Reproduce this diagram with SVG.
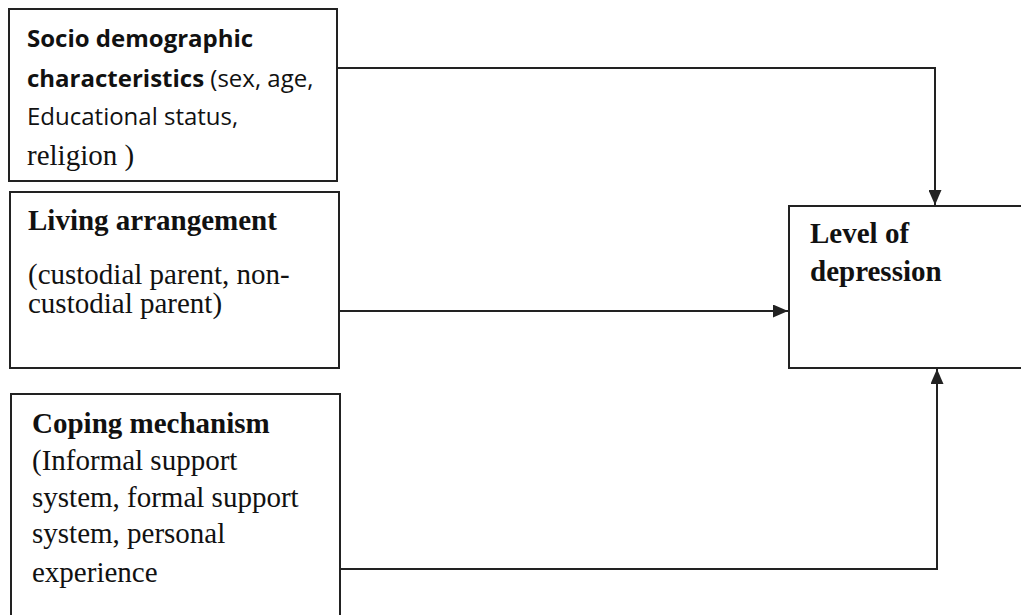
<svg xmlns="http://www.w3.org/2000/svg" width="1021" height="615" viewBox="0 0 1021 615">
<style>
.box{fill:#fff;stroke:#222;stroke-width:2}
.con{fill:none;stroke:#222;stroke-width:2}
.cal{font-family:"Open Sans","Noto Sans",sans-serif;font-size:24px;fill:#111}
.tnr{font-family:"Liberation Serif","Times New Roman",serif;font-size:29px;fill:#111}
.b{font-weight:bold}
</style>
<defs>
<marker id="ah" viewBox="0 0 15 13" refX="15" refY="6.5" markerWidth="15" markerHeight="13" markerUnits="userSpaceOnUse" orient="auto">
<path d="M0,0 L15,6.5 L0,13 Z" fill="#222"/>
</marker>
</defs>
<rect width="1021" height="615" fill="#fff"/>
<g id="connectors">
<path class="con" d="M337,68 H935 V205" marker-end="url(#ah)"/>
<path class="con" d="M339,311 H788" marker-end="url(#ah)"/>
<path class="con" d="M340,569 H937 V369" marker-end="url(#ah)"/>
</g>
<g id="socio">
<rect class="box" x="9" y="9" width="328" height="172"/>
<text class="cal b" x="27" y="47">Socio demographic</text>
<text class="cal" x="27" y="87"><tspan class="b">characteristics</tspan> (sex, age,</text>
<text class="cal" x="27" y="125">Educational status,</text>
<text class="tnr" x="27" y="165">religion )</text>
</g>
<g id="living">
<rect class="box" x="10" y="192" width="329" height="176"/>
<text class="tnr b" x="28" y="230">Living arrangement</text>
<text class="tnr" x="28" y="284">(custodial parent, non-</text>
<text class="tnr" x="28" y="313">custodial parent)</text>
</g>
<g id="coping">
<rect class="box" x="11" y="394" width="329" height="240"/>
<text class="tnr b" x="32" y="433">Coping mechanism</text>
<text class="tnr" x="32" y="470">(Informal support</text>
<text class="tnr" x="32" y="507">system, formal support</text>
<text class="tnr" x="32" y="543">system, personal</text>
<text class="tnr" x="32" y="582">experience</text>
</g>
<g id="level">
<rect class="box" x="789" y="206" width="240" height="162"/>
<text class="tnr b" x="810" y="243">Level of</text>
<text class="tnr b" x="810" y="281">depression</text>
</g>
</svg>
